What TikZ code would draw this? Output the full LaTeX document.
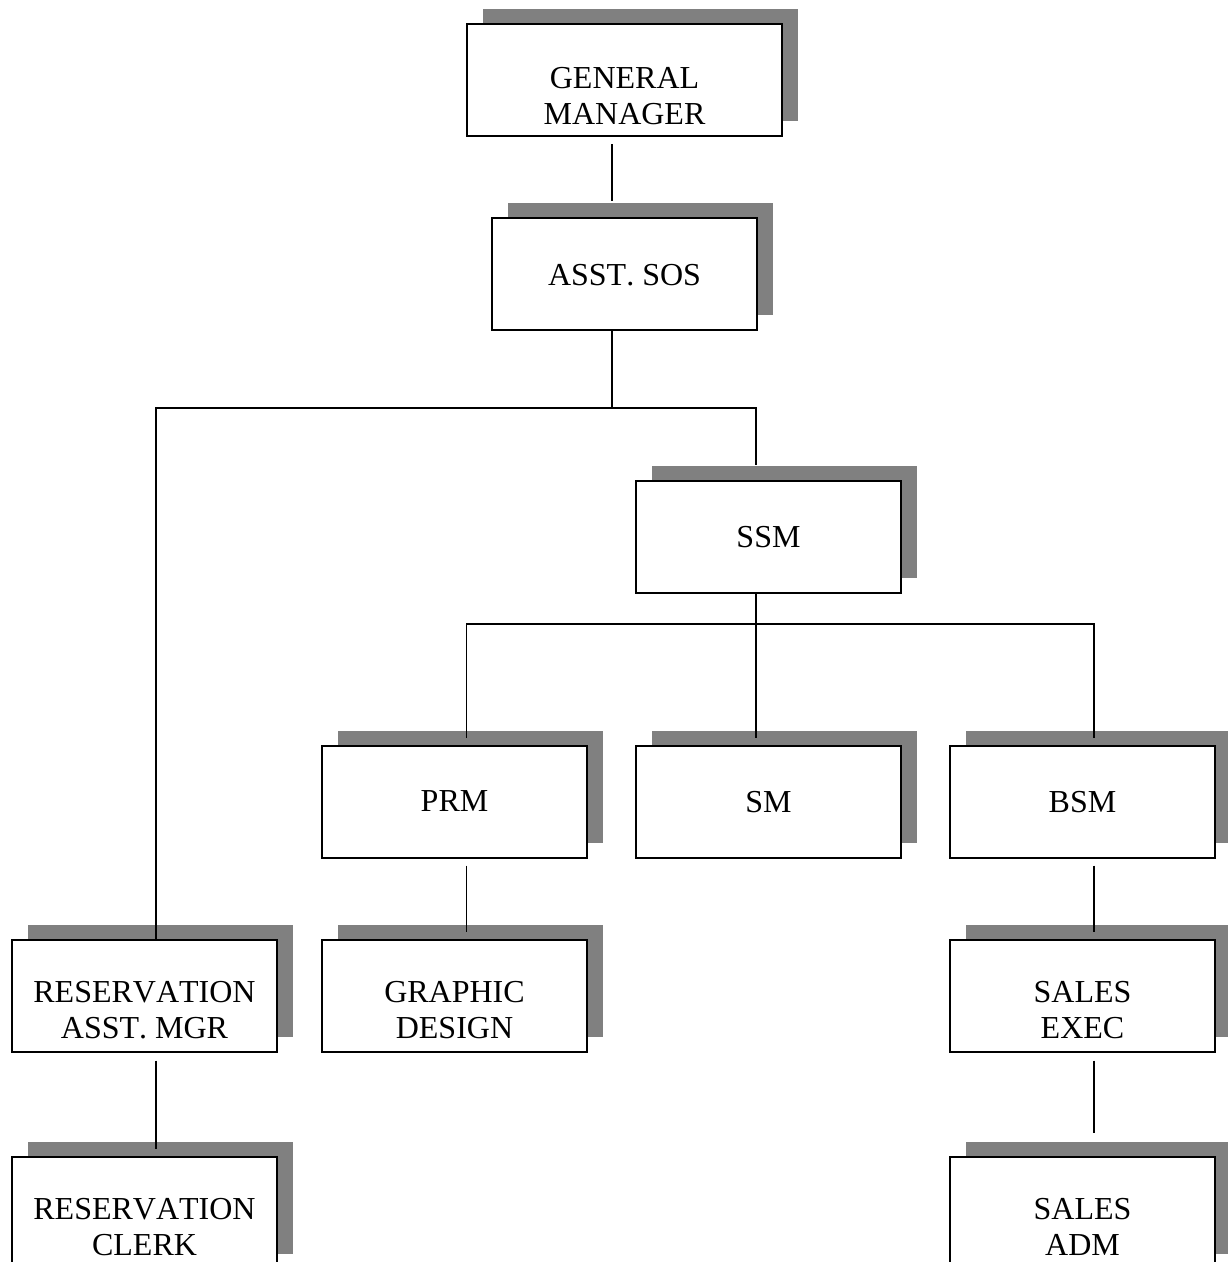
\documentclass[tikz,border=0pt]{standalone}
\usepackage{fontspec}
\setmainfont{Liberation Serif}[Kerning=Off]
\usetikzlibrary{
  positioning,
  shadows,
}
\tikzset{
  post/.style={draw, fill=white, line width=1pt, inner sep=0pt,
    minimum width=132.5pt, minimum height=56pt,
    general shadow={fill=black!50, shadow xshift=8pt, shadow yshift=7.5pt}},
  title/.style={align=center, inner sep=0pt, anchor=north,
    font=\fontsize{16pt}{18pt}\selectfont},
  link/.style={line width=0.9pt},
}

\begin{document}
\begin{tikzpicture}[x=0.5pt, y=-0.5pt]
      \useasboundingbox (0,0) rectangle (1227,1262);

      % boxes
      \node [post, minimum width=157.5pt] (gm) at (624.5,80.5) {};
      \node [post, below=40pt of gm] (sos) {};
      \node [post] (ssm) at (768.5,536.5) {};
      \node [post, below=75.5pt of ssm] (sm) {};
      \node [post, left=23.5pt of sm] (prm) {};
      \node [post, right=23.5pt of sm] (bsm) {};
      \node [post, below=40pt of prm] (gd) {};
      \node [post, left=21.5pt of gd] (res) {};
      \node [post, below=40pt of bsm] (se) {};
      \node [post, below=51.5pt of res] (clerk) {};
      \node [post, below=51.5pt of se] (adm) {};

      % texts
      \node [title, below=21.5pt of gm.north] (gmtext) {GENERAL\\MANAGER};
      \node [title, below=23pt of sos.north] (sostext) {ASST. SOS};
      \node [title, below=23pt of ssm.north] (ssmtext) {SSM};
      \node [title, below=23pt of prm.north] (prmtext) {PRM};
      \node [title, below=23pt of sm.north] (smtext) {SM};
      \node [title, below=23pt of bsm.north] (bsmtext) {BSM};
      \node [title, below=21pt of res.north] (restext) {RESERVATION\\ASST. MGR};
      \node [title, below=21pt of gd.north] (gdtext) {GRAPHIC\\DESIGN};
      \node [title, below=21pt of se.north] (setext) {SALES\\EXEC};
      \node [title, below=21pt of clerk.north] (clerktext) {RESERVATION\\CLERK};
      \node [title, below=21pt of adm.north] (admtext) {SALES\\ADM};

      \coordinate (busa) at (612,408);
      \coordinate (busb) at (756,624);

      \draw [link] ([xshift=-6.25pt, yshift=-3.5pt]gm.south) -- ([xshift=-6.25pt, yshift=8pt]sos.north);
      \draw [link] ([xshift=-6.25pt]sos.south) -- (busa);
      \draw [link] ([xshift=5.75pt]res.north) |- (busa) -| ([xshift=-6.25pt, yshift=7.5pt]ssm.north);

      \draw [link] ([xshift=-6.25pt]ssm.south) -- ([xshift=-6.25pt, yshift=3.5pt]sm.north);
      \draw [link] ([xshift=6pt, yshift=3.5pt]prm.north) |- (busb) -| ([xshift=5.75pt, yshift=3.5pt]bsm.north);

      \draw [link] ([xshift=6pt, yshift=-3.5pt]prm.south) -- ([xshift=6pt, yshift=3.5pt]gd.north);
      \draw [link] ([xshift=5.75pt, yshift=-3.5pt]bsm.south) -- ([xshift=5.75pt, yshift=3.5pt]se.north);
      \draw [link] ([xshift=5.75pt, yshift=-4pt]res.south) -- ([xshift=5.75pt, yshift=3.5pt]clerk.north);
      \draw [link] ([xshift=5.75pt, yshift=-4pt]se.south) -- ([xshift=5.75pt, yshift=11.5pt]adm.north);
    \end{tikzpicture}
\end{document}
